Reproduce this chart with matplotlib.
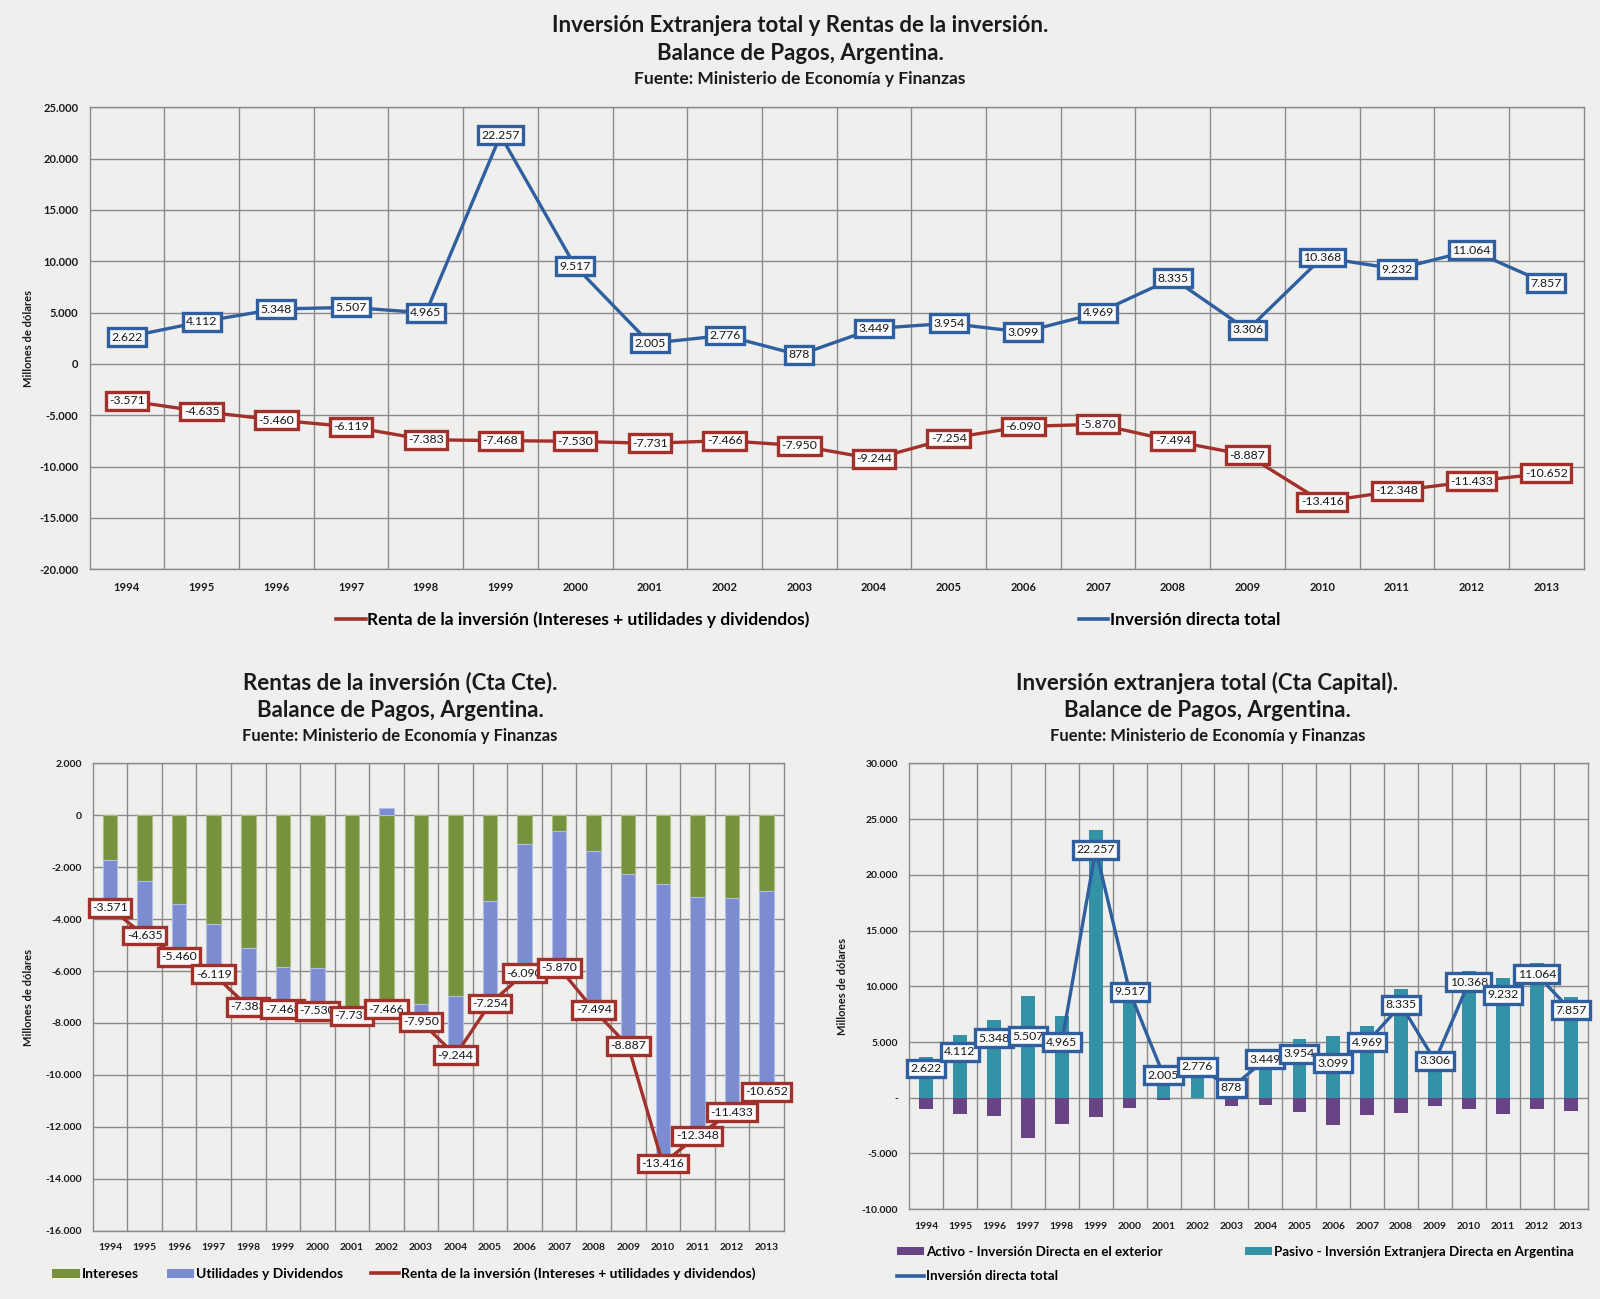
import numpy as np
import matplotlib
matplotlib.use("Agg")
import matplotlib.pyplot as plt
from matplotlib.ticker import FuncFormatter, MultipleLocator, FixedLocator
from matplotlib.patches import Patch
from matplotlib.lines import Line2D

plt.rcParams["font.family"] = ["Lato", "DejaVu Sans"]

# -----------------------------
# Data (millones de dólares)
# -----------------------------
years = [str(y) for y in range(1994, 2014)]

inversion_directa_total = [2622, 4112, 5348, 5507, 4965, 22257, 9517, 2005, 2776, 878,
                           3449, 3954, 3099, 4969, 8335, 3306, 10368, 9232, 11064, 7857]

renta_inversion = [-3571, -4635, -5460, -6119, -7383, -7468, -7530, -7731, -7466, -7950,
                   -9244, -7254, -6090, -5870, -7494, -8887, -13416, -12348, -11433, -10652]

intereses = [-1722, -2517, -3404, -4199, -5113, -5854, -5881, -7500, -7731, -7285,
             -6954, -3311, -1126, -596, -1391, -2252, -2649, -3152, -3205, -2914]

utilidades = [-1849, -2118, -2056, -1920, -2270, -1614, -1649, -231, 265, -665,
              -2290, -3943, -4964, -5274, -6103, -6635, -10767, -9196, -8228, -7738]

activo = [-1013, -1497, -1601, -3653, -2326, -1731, -901, -161, 627, -774,
          -676, -1311, -2438, -1504, -1391, -712, -965, -1488, -1052, -1225]

pasivo = [3635, 5609, 6949, 9160, 7291, 23988, 10418, 2166, 2149, 1652,
          4125, 5265, 5537, 6473, 9726, 4018, 11333, 10720, 12116, 9082]

# -----------------------------
# Styles
# -----------------------------
BG = "#efefed"
GRID = "#8a8a8a"
BLUE = "#2f5f9f"
RED = "#a3312b"
GREEN = "#76923c"
PERI = "#7b8dd0"
TEAL = "#3492a6"
PURPLE = "#694484"
TXT = "#1a1a1a"


def fmt_num(v, pos=None):
    return f"{v:,.0f}".replace(",", ".")


def fmt_acc(v, pos=None):
    # Excel accounting style: zero shown as "-"
    if abs(v) < 1e-9:
        return "-"
    return fmt_num(v)


def style_axes(ax, ymin, ymax, ystep, yfmt, tick_size, ylabelpad=10):
    n = len(years)
    x = np.arange(n)
    ax.set_facecolor(BG)
    ax.set_xlim(-0.5, n - 0.5)
    ax.set_ylim(ymin, ymax)
    ax.yaxis.set_major_locator(MultipleLocator(ystep))
    ax.yaxis.set_major_formatter(FuncFormatter(yfmt))
    ax.set_xticks(x)
    ax.set_xticklabels(years)
    ax.xaxis.set_minor_locator(FixedLocator(np.arange(0.5, n - 1, 1.0)))
    ax.grid(True, axis="y", which="major", color=GRID, lw=1.0)
    ax.grid(True, axis="x", which="minor", color=GRID, lw=1.0)
    ax.grid(False, axis="x", which="major")
    ax.set_axisbelow(True)
    for s in ax.spines.values():
        s.set_color(GRID)
        s.set_linewidth(1.0)
    ax.tick_params(which="both", length=0, colors=TXT)
    ax.tick_params(axis="x", pad=9)
    ax.tick_params(axis="y", pad=8)
    for lab in ax.get_xticklabels() + ax.get_yticklabels():
        lab.set_fontweight("bold")
        lab.set_fontsize(tick_size)
    ax.set_ylabel("Millones de dólares", fontsize=8, fontweight="bold", color=TXT,
                  labelpad=ylabelpad)


def labeled_line(ax, values, color, fs=8.8):
    x = np.arange(len(values))
    ax.plot(x, values, color=color, lw=2.4, zorder=4)
    for xi, v in zip(x, values):
        ax.text(xi, v, fmt_num(v), ha="center", va="center", fontsize=fs, color=TXT,
                zorder=5,
                bbox=dict(boxstyle="square,pad=0.28", fc="#fbfbfb", ec=color, lw=2.4))


def titles(xc, y0, l1, l2, fs1, fs2):
    fig.text(xc, y0, l1, ha="center", va="center", fontsize=fs1, fontweight="bold", color=TXT)
    fig.text(xc, y0 - 0.0215, l2, ha="center", va="center", fontsize=fs1,
             fontweight="bold", color=TXT)
    fig.text(xc, y0 - 0.0410, "Fuente: Ministerio de Economía y Finanzas",
             ha="center", va="center", fontsize=fs2, fontweight="bold", color=TXT)


fig = plt.figure(figsize=(16, 12.99), dpi=100, facecolor=BG)

# -----------------------------
# Top chart
# -----------------------------
titles(0.5, 0.9805, "Inversión Extranjera total y Rentas de la inversión.",
       "Balance de Pagos, Argentina.", 16, 12.5)

ax1 = fig.add_axes([0.056, 0.5617, 0.9338, 0.3558])
style_axes(ax1, -20000, 25000, 5000, fmt_num, 8, ylabelpad=4)
labeled_line(ax1, renta_inversion, RED)
labeled_line(ax1, inversion_directa_total, BLUE)

h_top = [Line2D([], [], color=RED, lw=2.6),
         Line2D([], [], color=BLUE, lw=2.6)]
l_top = ["Renta de la inversión (Intereses + utilidades y dividendos)",
         "Inversión directa total"]
ax1.legend(h_top, l_top, loc="upper center", bbox_to_anchor=(0.481, -0.058),
           ncol=2, frameon=False, columnspacing=15.5, handlelength=1.7,
           handletextpad=0.1, prop=dict(size=12.5, weight="bold"))

# -----------------------------
# Bottom-left chart
# -----------------------------
titles(0.25, 0.4745, "Rentas de la inversión (Cta Cte).",
       "Balance de Pagos, Argentina.", 16, 12)

ax2 = fig.add_axes([0.058, 0.0526, 0.4318, 0.3598])
style_axes(ax2, -16000, 2000, 2000, fmt_num, 7.5, ylabelpad=8)
x = np.arange(len(years))
ax2.bar(x, intereses, width=0.42, color=GREEN, edgecolor="#a9bd80", lw=0.8, zorder=2)
util_bottom = [i if u < 0 else 0 for i, u in zip(intereses, utilidades)]
ax2.bar(x, utilidades, bottom=util_bottom, width=0.42, color=PERI,
        edgecolor="#b2bde6", lw=0.8, zorder=2)
labeled_line(ax2, renta_inversion, RED)

h_bl = [Patch(fc=GREEN), Patch(fc=PERI), Line2D([], [], color=RED, lw=2.6)]
l_bl = ["Intereses", "Utilidades y Dividendos",
        "Renta de la inversión (Intereses + utilidades y dividendos)"]
ax2.legend(h_bl, l_bl, loc="upper center", bbox_to_anchor=(0.45, -0.052), ncol=3,
           frameon=False, columnspacing=2.0, handlelength=2.0, handleheight=0.6,
           handletextpad=0.15, prop=dict(size=10, weight="bold"))

# -----------------------------
# Bottom-right chart
# -----------------------------
titles(0.7545, 0.4745, "Inversión extranjera total (Cta Capital).",
       "Balance de Pagos, Argentina.", 16, 12)

ax3 = fig.add_axes([0.5682, 0.0691, 0.4241, 0.3433])
style_axes(ax3, -10000, 30000, 5000, fmt_acc, 7.5)
ax3.bar(x, activo, width=0.4, color=PURPLE, zorder=2)
ax3.bar(x, pasivo, width=0.4, color=TEAL, zorder=2)
labeled_line(ax3, inversion_directa_total, BLUE)

h_br = [Patch(fc=PURPLE), Line2D([], [], color=BLUE, lw=2.6), Patch(fc=TEAL)]
l_br = ["Activo - Inversión Directa en el exterior", "Inversión directa total",
        "Pasivo - Inversión Extranjera Directa en Argentina"]
ax3.legend(h_br, l_br, loc="upper left", bbox_to_anchor=(-0.035, -0.055), ncol=2,
           frameon=False, columnspacing=6.2, handlelength=2.0, handleheight=0.6,
           handletextpad=0.15, labelspacing=0.95, prop=dict(size=9.6, weight="bold"))

fig.savefig("out.png", dpi=100, facecolor=BG)
